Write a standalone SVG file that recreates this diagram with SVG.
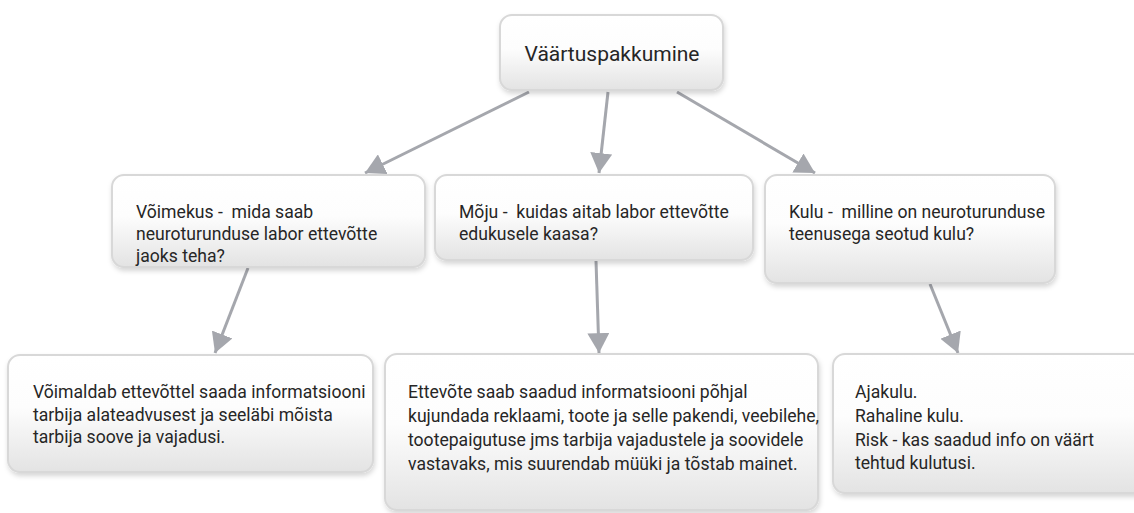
<svg xmlns="http://www.w3.org/2000/svg" width="1134" height="513" viewBox="0 0 1134 513">
<style>
.box{fill:url(#g);stroke:#d8d8d8;stroke-width:2;filter:url(#sh)}
.t{font-family:Roboto,"Liberation Sans",sans-serif;font-size:17.6px;fill:#262626;white-space:pre}
.tt{font-family:Roboto,"Liberation Sans",sans-serif;font-size:21px;fill:#262626}
.c{stroke:#a5a7ad;stroke-width:3;fill:none;marker-end:url(#ah)}
</style>
<defs>
<linearGradient id="g" x1="0" y1="0" x2="0" y2="1">
<stop offset="0" stop-color="#ffffff"/>
<stop offset="0.45" stop-color="#fdfdfd"/>
<stop offset="1" stop-color="#e3e3e3"/>
</linearGradient>
<filter id="sh" x="-10%" y="-10%" width="120%" height="130%">
<feDropShadow dx="1" dy="3" stdDeviation="2.5" flood-color="#000" flood-opacity="0.16"/>
</filter>
<marker id="ah" markerUnits="userSpaceOnUse" markerWidth="20" markerHeight="22" viewBox="0 0 18 20" refX="18" refY="10" orient="auto">
<path d="M0,0 L18,10 L0,20 Z" fill="#a5a7ad"/>
</marker>
</defs>
<g id="connectors">
<line class="c" x1="529" y1="92" x2="365" y2="173"/>
<line class="c" x1="608" y1="92" x2="599" y2="173"/>
<line class="c" x1="677" y1="92" x2="815" y2="173"/>
<line class="c" x1="248" y1="268" x2="215" y2="353"/>
<line class="c" x1="596" y1="261" x2="599" y2="353"/>
<line class="c" x1="930" y1="284" x2="958" y2="353"/>
</g>
<g id="n0"><rect class="box" x="500" y="15" width="223" height="75" rx="12"/><text class="tt" x="612" y="61" text-anchor="middle">Väärtuspakkumine</text></g>
<g id="n1"><rect class="box" x="112" y="175" width="313" height="92" rx="12"/>
<text class="t" x="136" y="218">Võimekus -  mida saab</text>
<text class="t" x="136" y="240">neuroturunduse labor ettevõtte</text>
<text class="t" x="136" y="262">jaoks teha?</text></g>
<g id="n2"><rect class="box" x="435" y="175" width="318" height="85" rx="12"/>
<text class="t" x="459" y="218">Mõju -  kuidas aitab labor ettevõtte</text>
<text class="t" x="459" y="240">edukusele kaasa?</text></g>
<g id="n3"><rect class="box" x="765" y="175" width="290" height="108" rx="12"/>
<text class="t" x="789" y="218">Kulu -  milline on neuroturunduse</text>
<text class="t" x="789" y="240">teenusega seotud kulu?</text></g>
<g id="n4"><rect class="box" x="8" y="355" width="365" height="117" rx="12"/>
<text class="t" x="33" y="398">Võimaldab ettevõttel saada informatsiooni</text>
<text class="t" x="33" y="421">tarbija alateadvusest ja seeläbi mõista</text>
<text class="t" x="33" y="443">tarbija soove ja vajadusi.</text></g>
<g id="n5"><rect class="box" x="385" y="354" width="433" height="156" rx="12"/>
<text class="t" x="408" y="398">Ettevõte saab saadud informatsiooni põhjal</text>
<text class="t" x="408" y="422">kujundada reklaami, toote ja selle pakendi, veebilehe,</text>
<text class="t" x="408" y="446">tootepaigutuse jms tarbija vajadustele ja soovidele</text>
<text class="t" x="408" y="470">vastavaks, mis suurendab müüki ja tõstab mainet.</text></g>
<g id="n6"><rect class="box" x="833" y="354" width="320" height="139" rx="12"/>
<text class="t" x="855" y="398">Ajakulu.</text>
<text class="t" x="855" y="422">Rahaline kulu.</text>
<text class="t" x="855" y="446">Risk - kas saadud info on väärt</text>
<text class="t" x="855" y="469">tehtud kulutusi.</text></g>
</svg>
